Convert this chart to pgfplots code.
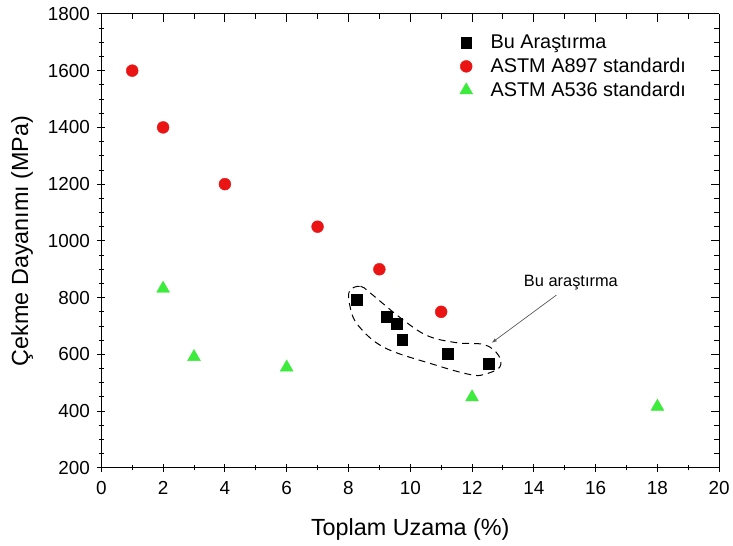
\documentclass[border=0pt]{standalone}
\usepackage{fontspec}
\setmainfont{Liberation Sans}
\usepackage{pgfplots}
\pgfplotsset{compat=1.18}
\definecolor{astmred}{RGB}{235,20,20}
\definecolor{astmgreen}{RGB}{60,235,60}

\begin{document}
\begin{tikzpicture}
\begin{axis}[
  scale only axis, width=622pt, height=457pt,
  xmin=0, xmax=20, ymin=200, ymax=1800,
  xtick={0,2,...,20}, ytick={200,400,...,1800},
  minor x tick num=1, minor y tick num=3,
  axis x line*=bottom, axis y line*=left,
  tick align=center,
  major tick length=8pt, minor tick length=5pt,
  tick style={black, line width=0.9pt},
  axis line style={line width=0.9pt},
  /pgf/number format/assume math mode=true,
  /pgf/number format/1000 sep={},
  ticklabel style={font=\fontsize{19}{22}\selectfont},
  xticklabel style={yshift=-6pt},
  yticklabel style={xshift=-4pt},
  label style={font=\fontsize{23.5}{28}\selectfont},
  xlabel={Toplam Uzama (\%)},
  xlabel style={yshift=-17pt},
  ylabel={Çekme Dayanımı (MPa)},
  ylabel style={yshift=8pt},
  legend style={draw=none, fill=none, at={(0.575,0.962)}, anchor=north west,
    font=\fontsize{20}{24}\selectfont, row sep=4pt, column sep=16pt},
  legend cell align=left,
]
\addplot[only marks, mark=square*, mark size=5.5pt, black]
  coordinates {(8.26,792)(9.23,732)(9.55,708)(9.74,652)(11.22,603)(12.54,568)};
\addlegendentry{Bu Araştırma}
\addplot[only marks, mark=*, mark size=6pt, color=astmred, mark options={draw=astmred, fill=astmred}]
  coordinates {(1,1600)(2,1400)(4,1200)(7,1050)(9,900)(11,750)};
\addlegendentry{ASTM A897 standardı}
\addplot[only marks, mark=triangle*, mark size=7.5pt, color=astmgreen, mark options={draw=astmgreen, fill=astmgreen}]
  coordinates {(2,832)(3,591)(6,554)(12,449)(18,416)};
\addlegendentry{ASTM A536 standardı}
\draw[dashed, line width=1pt, dash pattern=on 7pt off 5pt] plot[smooth cycle, tension=0.6] coordinates {
  (axis cs:8.04,825) (axis cs:8.39,840) (axis cs:8.71,816) (axis cs:9.68,729)
  (axis cs:10.55,666) (axis cs:11.51,641) (axis cs:12.41,634) (axis cs:12.86,596)
  (axis cs:12.89,554) (axis cs:12.38,529) (axis cs:11.93,529) (axis cs:10.77,564)
  (axis cs:9.16,624) (axis cs:8.3,704) (axis cs:8.04,774)};
\draw[-latex, gray!70!black, line width=0.7pt] (axis cs:14.73,809) -- (axis cs:12.64,641);
\node[font=\fontsize{16.5}{19}\selectfont] at (axis cs:15.2,852) {Bu araştırma};
\end{axis}
\begin{axis}[
  scale only axis, width=622pt, height=457pt,
  xmin=0, xmax=20, ymin=200, ymax=1800,
  xtick={0,2,...,20}, ytick={200,400,...,1800},
  minor x tick num=1, minor y tick num=3,
  axis x line*=top, axis y line*=right,
  tick align=inside,
  major tick length=8pt, minor tick length=5pt,
  tick style={black, line width=0.9pt},
  axis line style={line width=0.9pt},
  xticklabels={}, yticklabels={},
]
\end{axis}
\path (current axis.south west) ++(-102pt,-78pt) (current axis.north east) ++(9pt,14pt);
\end{tikzpicture}
\end{document}
